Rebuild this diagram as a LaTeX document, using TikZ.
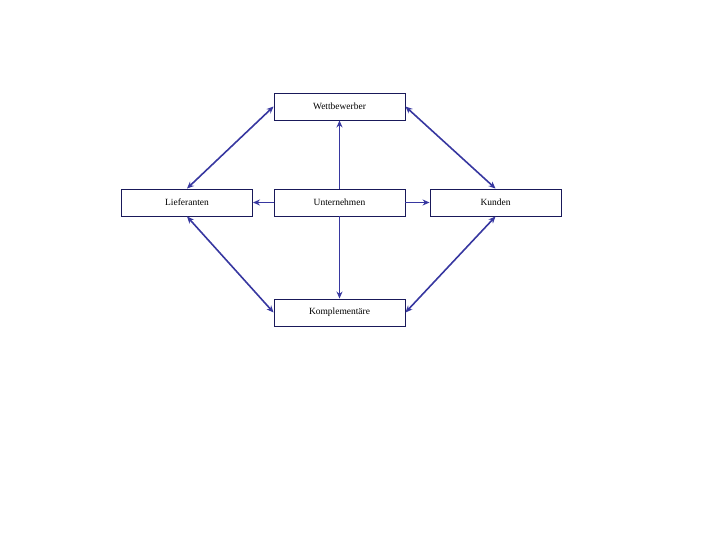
\documentclass[tikz,border=0pt]{standalone}
\usepackage{fontspec}
\setmainfont{Liberation Serif}
\usepackage{tikz}
\usetikzlibrary{positioning,arrows.meta}
\definecolor{boxnavy}{RGB}{25,25,90}
\definecolor{arrblue}{RGB}{55,55,160}

\begin{document}
\begin{tikzpicture}[
  x=1bp, y=-1bp,
  font=\fontsize{9.5}{11}\selectfont,
  >={Stealth[length=7bp,width=6bp]},
  actor/.style={rectangle, draw=boxnavy, line width=0.9bp, minimum width=131bp, minimum height=27bp, inner sep=1pt},
  oneway/.style={->, draw=arrblue, line width=1.6bp},
  twoway/.style={<->, draw=arrblue, line width=1.6bp}
]
  \useasboundingbox (0,0) rectangle (720,540);
  \node[actor] (wett) at (339.5,106.5) {Wettbewerber};
  \node[actor] (unt) at (339.5,202.5) {Unternehmen};
  \node[actor] (lief) at (187,202.5) {Lieferanten};
  \node[actor] (kund) at (495.5,202.5) {Kunden};
  \node[actor] (kompl) at (339.5,312.5) {Komplementäre};
  % Unternehmen nach aussen
  \draw[oneway] (unt) -- (wett);
  \draw[oneway] (unt) -- (lief);
  \draw[oneway] (unt) -- (kund);
  \draw[oneway] (unt) -- (kompl);
  % Diagonalen
  \draw[twoway] (lief.north) -- (wett.west);
  \draw[twoway] (kund.north) -- (wett.east);
  \draw[twoway] (lief.south) -- (kompl.west);
  \draw[twoway] (kund.south) -- (kompl.east);
\end{tikzpicture}
\end{document}
